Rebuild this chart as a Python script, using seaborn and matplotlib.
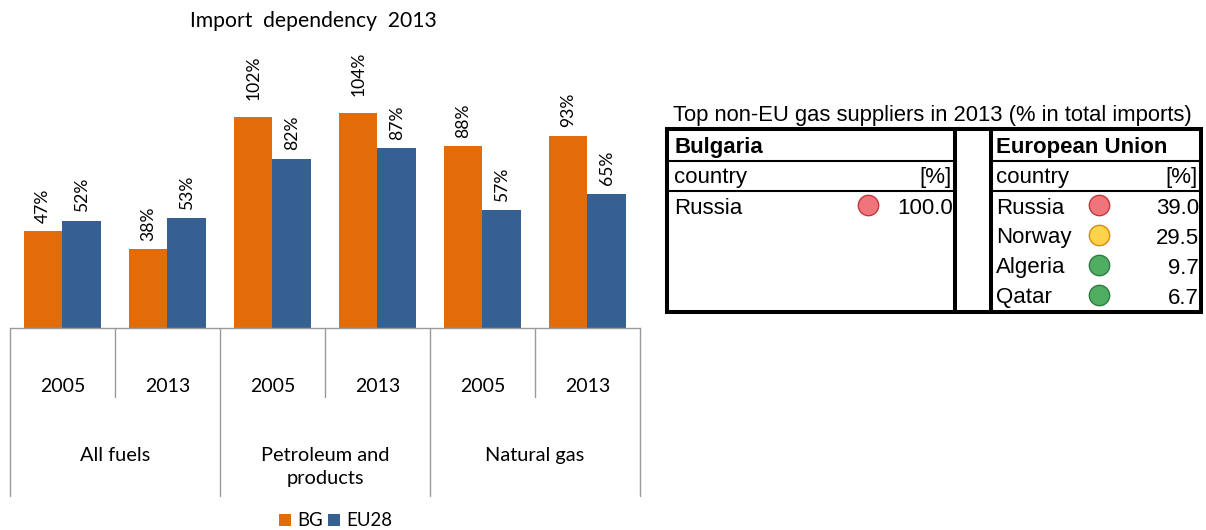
import matplotlib
matplotlib.use("Agg")
import matplotlib.pyplot as plt
import pandas as pd
import seaborn as sns
from matplotlib.patches import Rectangle

fuels = ["All fuels", "Petroleum and\nproducts", "Natural gas"]
years = ["2005", "2013"]
bg_values = [47, 38, 102, 104, 88, 93]
eu_values = [52, 53, 82, 87, 57, 65]
series_names = ["BG", "EU28"]
colors = ["#E36C0A", "#376092"]
bg_suppliers = ["Russia"]
bg_shares = ["100.0"]
bg_dots = ["red"]
eu_suppliers = ["Russia", "Norway", "Algeria", "Qatar"]
eu_shares = ["39.0", "29.5", "9.7", "6.7"]
eu_dots = ["red", "yellow", "green", "green"]
dot_colors = {"red": ("#F0757A", "#C0393E"), "yellow": ("#FFD34D", "#E08A00"), "green": ("#4FAE62", "#2E7D40")}

W, H = 1206, 530
sns.set_theme(style="white")
plt.rcParams["font.family"] = ["Lato", "DejaVu Sans"]
fig = plt.figure(figsize=(W / 100, H / 100), dpi=100, facecolor="white")

# chart axes
L, R, T, B = 10, 640, 30, 328
ax = fig.add_axes([L / W, 1 - B / H, (R - L) / W, (B - T) / H])
cats = [f"{i}" for i in range(6)]
df = pd.DataFrame({
    "cat": cats * 2,
    "series": [series_names[0]] * 6 + [series_names[1]] * 6,
    "value": bg_values + eu_values,
})
sns.barplot(data=df, x="cat", y="value", hue="series", palette=colors, ax=ax,
            width=0.735, gap=0, saturation=1, legend=False, linewidth=0)
ax.set_xlim(-0.5, 5.5)
ax.set_ylim(0, (B - T) / 2.067)
ax.set_xlabel("")
ax.set_ylabel("")
ax.set_yticks([])
ax.set_xticks([])
for s in ["top", "left", "right"]:
    ax.spines[s].set_visible(False)
ax.spines["bottom"].set_color("#9a9a9a")
ax.spines["bottom"].set_linewidth(1)

for c in ax.containers:
    anns = ax.bar_label(c, labels=[f"{v:.0f}%" for v in c.datavalues], rotation=90,
                        padding=6, fontsize=12.6, color="black")
    for ann, v in zip(anns, c.datavalues):
        if v >= 100:
            ann.xyann = (0, 12)

tr = ax.get_xaxis_transform()
def px(y):
    return (B - y) / (B - T)
for i in range(7):
    major = i % 2 == 0
    end = 496 if major else 397
    ax.plot([i - 0.5, i - 0.5], [0, px(end)], transform=tr, clip_on=False,
            color="#9a9a9a", lw=1)
for i in range(6):
    ax.text(i, px(387), years[i % 2], transform=tr, ha="center", va="center",
            fontsize=14, color="black")
for i, f in enumerate(fuels):
    ax.text(2 * i + 0.5, px(447), f, transform=tr, ha="center", va="top",
            fontsize=14.4, color="black", linespacing=1.45)

fig.text(313 / W, 1 - 21 / H, "Import  dependency  2013", ha="center", va="center",
         fontsize=15.2, color="black")

# overlay in pixel coordinates: legend and table
ov = fig.add_axes([0, 0, 1, 1], facecolor="none")
ov.set_xlim(0, W)
ov.set_ylim(H, 0)
ov.axis("off")

for x, name, col in [(279, series_names[0], colors[0]), (328, series_names[1], colors[1])]:
    ov.add_patch(Rectangle((x, 514), 12, 12, facecolor=col, edgecolor="none"))
    ov.text(x + 18, 520, name, ha="left", va="center", fontsize=13.4, color="black")

tf = ["Liberation Sans", "DejaVu Sans"]
fs = 16
ov.text(673, 116, "Top non-EU gas suppliers in 2013 (% in total imports)", family=tf,
        fontsize=15.8, ha="left", va="center", color="black")

x0, x1, x2, x3 = 667, 955, 991, 1201
y0, y1, y2, y3 = 129, 161, 191, 312
for a, b in [(x0, x1), (x2, x3)]:
    ov.add_patch(Rectangle((a, y0), b - a, y3 - y0, fill=False, edgecolor="black", lw=2.9))
    ov.plot([a, b], [y1, y1], color="black", lw=1.5)
    ov.plot([a, b], [y2, y2], color="black", lw=1.5)
ov.plot([x1, x2], [y0, y0], color="black", lw=2.9)
ov.plot([x1, x2], [y3, y3], color="black", lw=2.9)

ov.text(x0 + 7, 148, "Bulgaria", family=tf, fontweight="bold", fontsize=fs, va="center", color="black")
ov.text(x2 + 5, 148, "European Union", family=tf, fontweight="bold", fontsize=fs, va="center", color="black")
for a, b in [(x0, x1), (x2, x3)]:
    ov.text(a + (7 if a == x0 else 5), 178, "country", family=tf, fontsize=fs, va="center", color="black")
    ov.text(b - 3, 178, "[%]", family=tf, fontsize=fs, va="center", ha="right", color="black")

def rows(names, vals, dots, xl, xd, xr):
    for i, (n, v, d) in enumerate(zip(names, vals, dots)):
        y = 208 + i * 30
        ov.text(xl, y, n, family=tf, fontsize=fs, va="center", ha="left", color="black")
        ov.text(xr, y, v, family=tf, fontsize=fs, va="center", ha="right", color="black")
        ov.scatter([xd], [y - 3], s=215, color=dot_colors[d][0], edgecolor=dot_colors[d][1],
                   linewidth=1, zorder=3)

rows(bg_suppliers, bg_shares, bg_dots, x0 + 7, 868, x1 - 2)
rows(eu_suppliers, eu_shares, eu_dots, x2 + 5, 1099, x3 - 2)

fig.savefig("out.png", dpi=100, facecolor="white")
